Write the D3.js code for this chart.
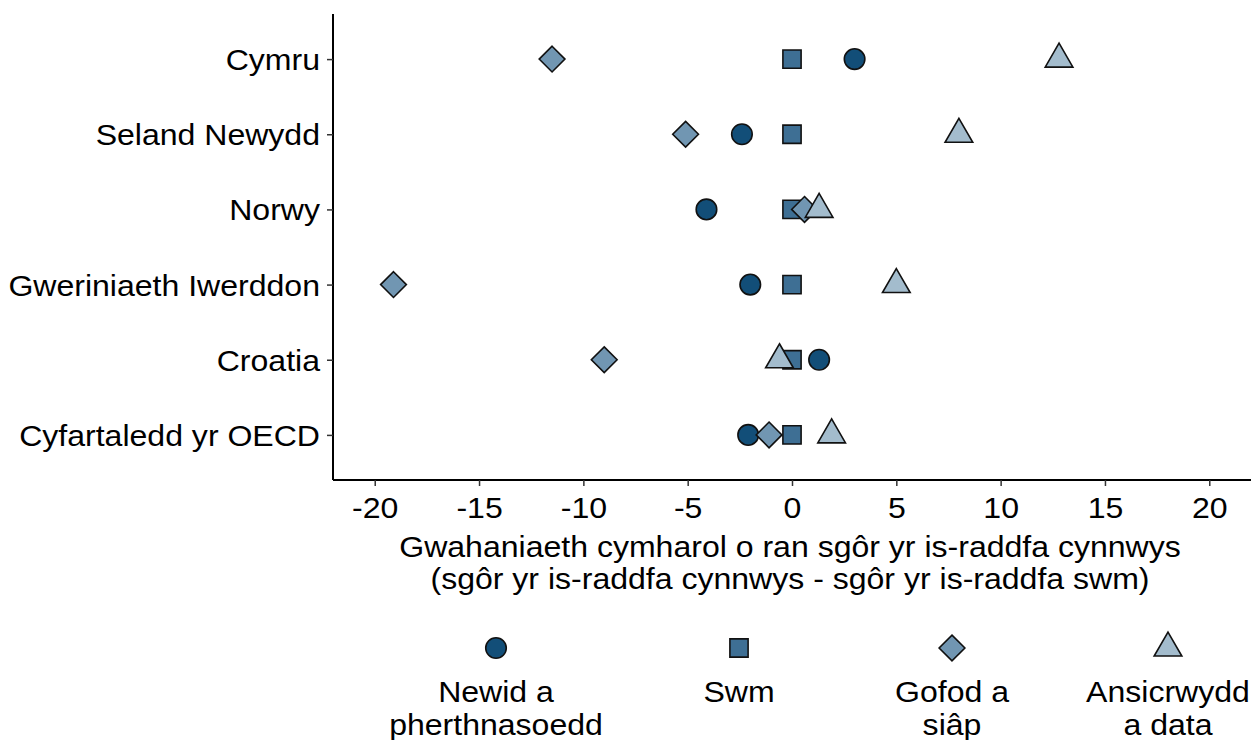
<!DOCTYPE html>
<html><head><meta charset="utf-8">
<script src="https://cdn.jsdelivr.net/npm/d3@7"></script>
<style>body{margin:0;background:#fff}svg{display:block}text{font-family:"Liberation Sans",Arial,sans-serif;fill:#000}</style>
</head><body><svg id="c" width="1254" height="740"></svg>
<script>
const countries = ["Cymru","Seland Newydd","Norwy","Gweriniaeth Iwerddon","Croatia","Cyfartaledd yr OECD"];
const seriesNames = ["Newid a pherthnasoedd","Swm","Gofod a siâp","Ansicrwydd a data"];
const legendLines = [["Newid a","pherthnasoedd"],["Swm"],["Gofod a","siâp"],["Ansicrwydd","a data"]];
const newid = [3.0, -2.4, -4.1, -2.0, 1.3, -2.1];
const swm = [0, 0, 0, 0, 0, 0];
const gofod = [-11.5, -5.1, 0.6, -19.1, -9.0, -1.1];
const ansicrwydd = [12.8, 8.0, 1.3, 5.0, -0.6, 1.9];
const xTicks = [-20,-15,-10,-5,0,5,10,15,20];
const xTitle = ["Gwahaniaeth cymharol o ran sgôr yr is-raddfa cynnwys","(sgôr yr is-raddfa cynnwys - sgôr yr is-raddfa swm)"];

const series = [newid, swm, gofod, ansicrwydd];
const colors = ["#124e78","#3e6f94","#7196b2","#a3bccd"];
const FS = "29px";
const SX = 1.105; // horizontal stretch of text seen in reference

const S = 27.4;
const shapePaths = [
  () => { const r = 0.375*S; return `M${r},0A${r},${r} 0 1,1 ${-r},0A${r},${r} 0 1,1 ${r},0Z`; },
  () => { const h = 0.332*S; return `M${-h},${-h}H${h}V${h}H${-h}Z`; },
  () => { const h = 0.47*S; return `M0,${-h}L${h},0L0,${h}L${-h},0Z`; },
  () => { const r = 0.583*S, w = r*Math.sqrt(3)/2; return `M0,${-r}L${w},${r/2}L${-w},${r/2}Z`; }
];

const svg = d3.select("#c");
const L = 333, R = 1251, T = 14, B = 480;
const x = d3.scaleLinear().domain([-22,22]).range([L,R]);
const y = d3.scalePoint().domain(countries).range([T,B]).padding(0.6);

function stretchText(sel, x0, y0){
  sel.attr("transform", function(){
    return `translate(${x0},${y0}) scale(${SX},1)`;
  });
}

// axes
const xa = svg.append("g").attr("transform",`translate(0,${B})`)
  .call(d3.axisBottom(x).tickValues(xTicks).tickSize(6).tickPadding(4).tickFormat(d3.format("d")));
xa.select(".domain").attr("stroke","#000").attr("stroke-width",2).attr("d",`M${L},0H${R}`);
xa.selectAll(".tick line").attr("stroke","#333").attr("stroke-width",1.5);
xa.selectAll(".tick text").style("font-size",FS).attr("fill","#000").attr("dy",null).attr("y",0).attr("x",0)
  .attr("transform",`translate(0,38) scale(${SX},1)`)
  .text(d=>d<0?"-"+Math.abs(d):d);

const ya = svg.append("g").attr("transform",`translate(${L},0)`)
  .call(d3.axisLeft(y).tickSize(6).tickPadding(7));
ya.select(".domain").attr("stroke","#000").attr("stroke-width",2).attr("d",`M0,${T}V${B}`);
ya.selectAll(".tick line").attr("stroke","#333").attr("stroke-width",1.5);
ya.selectAll(".tick text").style("font-size",FS).attr("fill","#000").attr("dy",null).attr("x",0).attr("y",0)
  .attr("transform",`translate(-13,10.5) scale(${SX},1)`);

// points
series.forEach((vals,si)=>{
  svg.append("g").selectAll("path").data(vals).join("path")
    .attr("d",shapePaths[si]())
    .attr("transform",(d,i)=>`translate(${x(d)},${y(countries[i])})`)
    .attr("fill",colors[si]).attr("stroke","#111").attr("stroke-width",1.6);
});

// x title
svg.append("g").selectAll("text").data(xTitle).join("text")
  .attr("text-anchor","middle").style("font-size",FS)
  .attr("transform",(d,i)=>`translate(${(L+R)/2 - 2},${557+i*32}) scale(${SX},1)`)
  .text(d=>d);

// legend
const legX = [496, 739, 952, 1168];
legendLines.forEach((lines,si)=>{
  svg.append("path").attr("d",shapePaths[si]())
    .attr("transform",`translate(${legX[si]},648)`)
    .attr("fill",colors[si]).attr("stroke","#111").attr("stroke-width",1.6);
  lines.forEach((t,li)=>{
    svg.append("text").attr("text-anchor","middle").style("font-size",FS)
      .attr("transform",`translate(${legX[si]},${702+li*33}) scale(${SX},1)`)
      .text(t);
  });
});
</script></body></html>
